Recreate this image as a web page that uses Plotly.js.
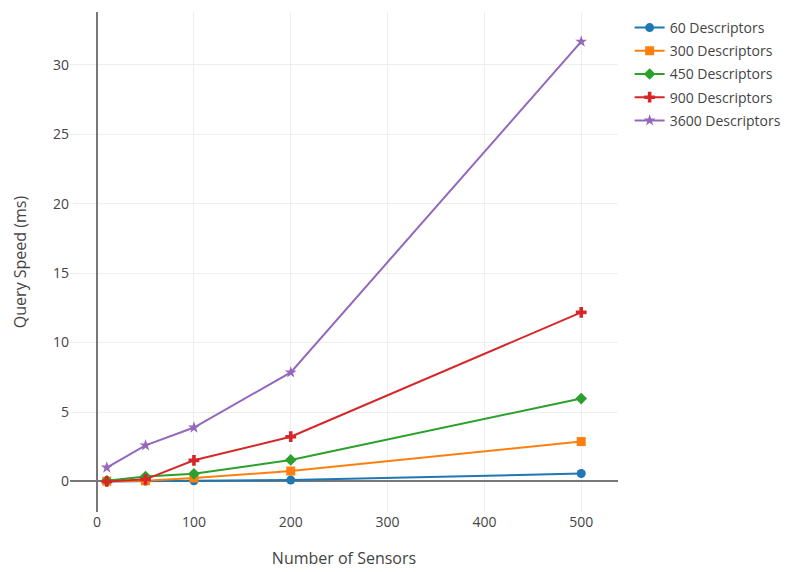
<!DOCTYPE html>
<html><head><meta charset="utf-8">
<script src="https://cdn.plot.ly/plotly-3.0.1.min.js"></script>
<style>body{margin:0;background:#fff}#c{width:792px;height:572px}</style>
</head><body><div id="c"></div>
<script>
const sensors = [10, 50, 100, 200, 500];
const d60 = [0.0, 0.02, 0.05, 0.1, 0.57];
const d300 = [0.02, 0.05, 0.25, 0.75, 2.87];
const d450 = [0.05, 0.35, 0.55, 1.55, 5.97];
const d900 = [0.0, 0.15, 1.52, 3.22, 12.17];
const d3600 = [1.0, 2.6, 3.88, 7.85, 31.67];
const names = ['60 Descriptors','300 Descriptors','450 Descriptors','900 Descriptors','3600 Descriptors'];
const colors = ['#1f77b4','#ff7f0e','#2ca02c','#d62728','#9467bd'];
const symbols = ['circle','square','diamond','cross','star'];
const series = [d60, d300, d450, d900, d3600];
const traces = series.map((v,i)=>({
  x: sensors, y: v, name: names[i], type:'scatter', mode:'lines+markers', legendgroup:'g'+i,
  line:{color:colors[i], width:2}, marker:{symbol:symbols[i], size:9, color:colors[i]}
}));
const font = {family:'"Open Sans", sans-serif', size:14, color:'#444'};
Plotly.newPlot('c', traces, {
  width:792, height:572, font:font,
  margin:{l:70, r:174, t:12, b:60, autoexpand:false},
  paper_bgcolor:'#fff', plot_bgcolor:'#fff',
  xaxis:{range:[-28,538], tickvals:[0,100,200,300,400,500], gridcolor:'#eee', zeroline:true, zerolinecolor:'#777', zerolinewidth:1.5,
    title:{text:'Number of Sensors', font:{size:16}, standoff:22}, showline:false},
  yaxis:{range:[-2.2,33.8], tickvals:[0,5,10,15,20,25,30], gridcolor:'#eee', zeroline:true, zerolinecolor:'#777', zerolinewidth:1.5,
    title:{text:'Query Speed (ms)', font:{size:16}, standoff:22}, showline:false},
  legend:{xref:'container', x:0.795, y:1, xanchor:'left', yanchor:'top', font:{size:14}, tracegroupgap:2},
  showlegend:true
}, {displayModeBar:false});
</script></body></html>
